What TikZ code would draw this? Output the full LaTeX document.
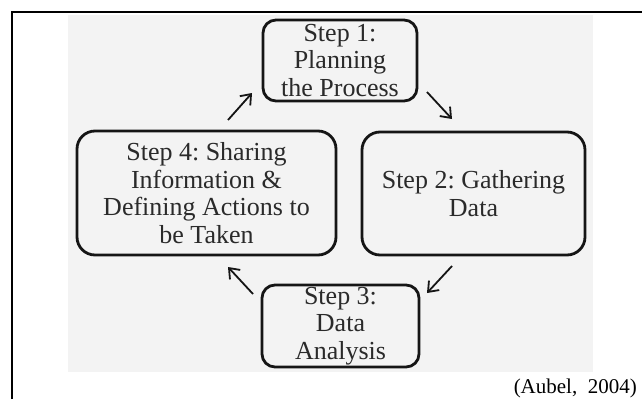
\documentclass[tikz,border=0pt]{standalone}
\usepackage{fontspec}
\setmainfont{Liberation Serif}
\usetikzlibrary{arrows.meta}
\definecolor{bggray}{HTML}{F3F3F3}
\definecolor{txt}{HTML}{2A2A2A}
\definecolor{ink}{HTML}{151515}
\tikzset{
  stepbox/.style={draw=ink, line width=2.8pt, rounded corners=13pt, inner sep=0pt,
    align=center, text=txt, font=\fontsize{26}{27.5}\selectfont\frenchspacing},
  cyc/.style={draw=ink, line width=1.8pt, -{Straight Barb[length=9pt,width=14pt,line width=1.8pt]}}
}
\begin{document}
\begin{tikzpicture}[x=1pt,y=-1pt]
\useasboundingbox (0,0) rectangle (642,399);
\fill[bggray] (68,15) rectangle (593,372);
\draw[line width=2.5pt, black] (12,399) -- (12,12) -- (642,12);

\node[stepbox, minimum width=154pt, minimum height=81pt] (b1) at (340,60.5) {Step 1:\\Planning\\the Process};
\node[stepbox, rounded corners=18pt, minimum width=223pt, minimum height=123pt] (b2) at (473.5,193.5) {Step 2: Gathering\\Data};
\node[stepbox, minimum width=157pt, minimum height=82pt] (b3) at (340.5,326) {Step 3:\\Data\\Analysis};
\node[stepbox, rounded corners=18pt, minimum width=259pt, minimum height=124pt] (b4) at (206.5,193) {Step 4: Sharing\\Information \&\\Defining Actions to\\be Taken};

\coordinate (a1s) at (427,92);  \coordinate (a1e) at (452,119);
\coordinate (a2s) at (452,266); \coordinate (a2e) at (427,293);
\coordinate (a3s) at (253,294); \coordinate (a3e) at (228,267);
\coordinate (a4s) at (228,120); \coordinate (a4e) at (252,93);
\draw[cyc] (a1s) -- (a1e);
\draw[cyc] (a2s) -- (a2e);
\draw[cyc] (a3s) -- (a3e);
\draw[cyc] (a4s) -- (a4e);

\node[anchor=base east, inner sep=0pt, font=\fontsize{21}{24}\selectfont\frenchspacing, text=black] (cite) at (637,393) {(Aubel,\ \ 2004)};
\end{tikzpicture}
\end{document}
